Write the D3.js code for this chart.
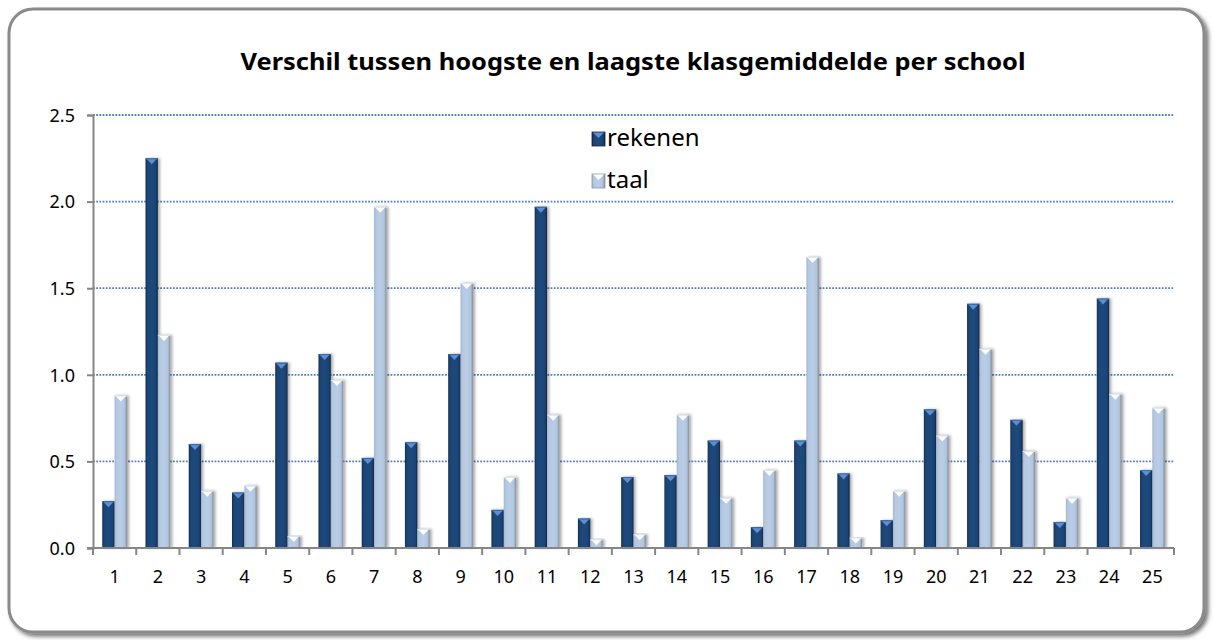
<!DOCTYPE html>
<html>
<head>
<meta charset="utf-8">
<script src="https://cdn.jsdelivr.net/npm/d3@7"></script>
<style>
  body { margin: 0; background: #fff; }
  svg { display: block; font-family: "Noto Sans", "Open Sans", sans-serif; }
</style>
</head>
<body>
<svg id="plot"></svg>
<script>
const width = 1214;
const height = 640;

// data
const schools = d3.range(1, 26).map(String);
const series = ['rekenen', 'taal'];
const rekenen = [0.27, 2.25, 0.60, 0.32, 1.07, 1.12, 0.52, 0.61, 1.12, 0.22,
                 1.97, 0.17, 0.41, 0.42, 0.62, 0.12, 0.62, 0.43, 0.16, 0.80,
                 1.41, 0.74, 0.15, 1.44, 0.45];
const taal = [0.88, 1.23, 0.33, 0.36, 0.07, 0.97, 1.97, 0.11, 1.53, 0.41,
              0.77, 0.05, 0.08, 0.77, 0.29, 0.45, 1.68, 0.06, 0.33, 0.65,
              1.15, 0.56, 0.29, 0.89, 0.81];
const yTicks = [0, 0.5, 1.0, 1.5, 2.0, 2.5];
const title = 'Verschil tussen hoogste en laagste klasgemiddelde per school';

const plot = {left: 93, right: 1174, top: 115, bottom: 548};

let svg = d3.select('svg#plot')
  .attr('width', width)
  .attr('height', height);

let defs = svg.append('defs');

// frame shadow
let fs = defs.append('filter').attr('id', 'frameShadow')
  .attr('x', '-5%').attr('y', '-5%').attr('width', '110%').attr('height', '110%');
fs.append('feDropShadow').attr('dx', 3).attr('dy', 3).attr('stdDeviation', 2)
  .attr('flood-color', '#000').attr('flood-opacity', 0.55);

let bs = defs.append('filter').attr('id', 'barShadow')
  .attr('x', '-50%').attr('y', '-5%').attr('width', '200%').attr('height', '110%');
bs.append('feDropShadow').attr('dx', 2).attr('dy', 0).attr('stdDeviation', 1.5)
  .attr('flood-color', '#000').attr('flood-opacity', 0.35);

function hGrad(id, stops){
  let g = defs.append('linearGradient').attr('id', id)
    .attr('x1', 0).attr('x2', 1).attr('y1', 0).attr('y2', 0);
  stops.forEach(s=>g.append('stop').attr('offset', s[0]).attr('stop-color', s[1]));
}
hGrad('gradRek', [[0, '#142f52'], [0.15, '#1d4474'], [0.5, '#1f4a7e'], [0.85, '#1c4272'], [1, '#0f2440']]);
hGrad('gradTaal', [[0, '#9fb3cc'], [0.15, '#b5c8e1'], [0.5, '#bacde6'], [0.82, '#b2c5de'], [1, '#7f8b99']]);

// frame
svg.append('rect')
  .attr('x', 9).attr('y', 9)
  .attr('width', 1195).attr('height', 623)
  .attr('rx', 24).attr('ry', 24)
  .attr('fill', '#fff')
  .attr('stroke', '#8a8a8a')
  .attr('stroke-width', 3)
  .attr('filter', 'url(#frameShadow)');

// title
svg.append('text')
  .attr('x', 633).attr('y', 70)
  .attr('text-anchor', 'middle')
  .attr('font-weight', 'bold')
  .attr('font-size', 24)
  .attr('textLength', 785)
  .attr('lengthAdjust', 'spacingAndGlyphs')
  .text(title);

// scales
let sx = d3.scaleBand().domain(schools).range([plot.left, plot.right]);
let barW = sx.step() / 3.5;
let sxInner = d3.scaleBand().domain(series).range([0, barW * 2]);
let sy = d3.scaleLinear().domain([0, 2.5]).range([plot.bottom, plot.top]);

// gridlines
svg.append('g')
  .selectAll('line')
  .data(yTicks.filter(d=>d>0))
  .enter()
  .append('line')
  .attr('x1', plot.left).attr('x2', plot.right)
  .attr('y1', d=>sy(d)).attr('y2', d=>sy(d))
  .attr('stroke', '#4f81bd')
  .attr('stroke-width', 1.8)
  .attr('stroke-dasharray', '1.8 1.4');

// y axis
let yAxis = svg.append('g')
  .attr('transform', `translate(${plot.left},0)`)
  .call(d3.axisLeft(sy).tickValues(yTicks).tickFormat(d3.format('.1f')).tickSize(6).tickPadding(12));
yAxis.select('.domain').attr('stroke', '#868686').attr('stroke-width', 2);
yAxis.selectAll('.tick line').attr('stroke', '#868686').attr('stroke-width', 2);
yAxis.selectAll('.tick text').attr('font-size', 18).attr('fill', '#000')
  .attr('font-family', '"Noto Sans", sans-serif').attr('dy', '0.35em');

// bars
let data = [];
schools.forEach((s, i)=>{
  data.push({school: s, key: 'rekenen', value: rekenen[i]});
  data.push({school: s, key: 'taal', value: taal[i]});
});
let off = (sx.step() - barW * 2) / 2;

let bars = svg.append('g').selectAll('g.bar')
  .data(data)
  .enter()
  .append('g')
  .attr('class', 'bar');

bars.append('rect')
  .attr('x', d=>sx(d.school) + off + sxInner(d.key))
  .attr('y', d=>sy(d.value))
  .attr('width', barW)
  .attr('height', d=>sy(0) - sy(d.value))
  .attr('fill', d=>d.key == 'rekenen' ? 'url(#gradRek)' : 'url(#gradTaal)')
  .attr('filter', 'url(#barShadow)');

// bevel top
bars.append('path')
  .attr('d', d=>{
    let x0 = sx(d.school) + off + sxInner(d.key);
    let y0 = sy(d.value);
    let h = Math.min(6, (sy(0) - y0));
    return `M${x0+1},${y0+0.5} L${x0+barW-1},${y0+0.5} L${x0+barW/2},${y0+h} Z`;
  })
  .attr('fill', d=>d.key == 'rekenen' ? '#5f8fd3' : '#ffffff');
bars.append('line')
  .attr('x1', d=>sx(d.school) + off + sxInner(d.key))
  .attr('x2', d=>sx(d.school) + off + sxInner(d.key) + barW)
  .attr('y1', d=>sy(d.value) + 0.5)
  .attr('y2', d=>sy(d.value) + 0.5)
  .attr('stroke', d=>d.key == 'rekenen' ? '#3a68a8' : '#dce6f2')
  .attr('stroke-width', 1);

// x axis
let xAxis = svg.append('g')
  .attr('transform', `translate(0,${plot.bottom})`)
  .call(d3.axisBottom(sx).tickSize(0).tickPadding(22));
xAxis.select('.domain').attr('stroke', '#868686').attr('stroke-width', 2)
  .attr('d', `M${plot.left - 6},0H${plot.right}`);
xAxis.selectAll('.tick text').attr('font-size', 18).attr('fill', '#000')
  .attr('font-family', '"Noto Sans", sans-serif');
xAxis.append('g').selectAll('line')
  .data(d3.range(schools.length + 1))
  .enter()
  .append('line')
  .attr('x1', i=>plot.left + i * sx.step())
  .attr('x2', i=>plot.left + i * sx.step())
  .attr('y1', 0).attr('y2', 7)
  .attr('stroke', '#868686').attr('stroke-width', 2);

// legend
let legend = svg.append('g');
let legendRows = legend.selectAll('g')
  .data(series)
  .enter()
  .append('g')
  .attr('transform', (d,i)=>`translate(592,${146 + i * 42})`);
legendRows.append('rect')
  .attr('x', 0).attr('y', -14)
  .attr('width', 13).attr('height', 14)
  .attr('fill', d=>d == 'rekenen' ? 'url(#gradRek)' : 'url(#gradTaal)')
  .attr('stroke', d=>d == 'rekenen' ? '#10243f' : '#8c98a6')
  .attr('stroke-width', 0.8);
legendRows.append('path')
  .attr('d', 'M1,-13.5 L12,-13.5 L6.5,-8 Z')
  .attr('fill', d=>d == 'rekenen' ? '#5f8fd3' : '#ffffff');
legendRows.append('text')
  .attr('x', 15).attr('y', 0)
  .attr('font-size', 24)
  .text(d=>d);
</script>
</body>
</html>
